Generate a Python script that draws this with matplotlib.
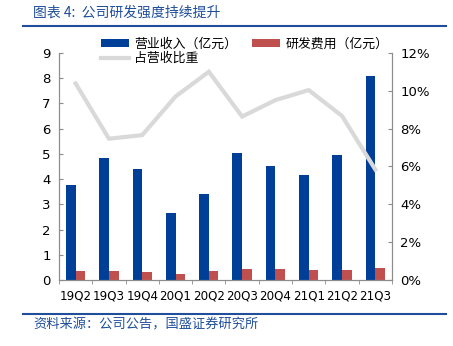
import matplotlib
matplotlib.use("Agg")
import matplotlib.pyplot as plt
from matplotlib.ticker import FuncFormatter
import numpy as np

plt.rcParams['font.family'] = ['DejaVu Sans', 'Noto Sans CJK SC']

quarters = ["19Q2", "19Q3", "19Q4", "20Q1", "20Q2", "20Q3", "20Q4", "21Q1", "21Q2", "21Q3"]
revenue = [3.78, 4.83, 4.42, 2.65, 3.41, 5.05, 4.50, 4.18, 4.95, 8.08]
rd_cost = [0.37, 0.34, 0.32, 0.24, 0.36, 0.44, 0.42, 0.40, 0.41, 0.47]
rd_ratio = [10.39, 7.47, 7.66, 9.70, 11.01, 8.64, 9.51, 10.04, 8.67, 5.84]

blue = "#003f98"
red = "#c0504d"
gray_line = "#d9d9d9"
spine_c = "#8c8c8c"
title_c = "#1f4e9b"
cjk = ['Noto Sans CJK SC', 'DejaVu Sans']

fig = plt.figure(figsize=(4.53, 3.46), dpi=100)
ax = fig.add_axes([0.1302, 0.1908, 0.7351, 0.656])
ax2 = ax.twinx()

x = np.arange(len(quarters))
w = 0.29
b1 = ax.bar(x - w / 2, revenue, width=w, color=blue, zorder=2)
b2 = ax.bar(x + w / 2, rd_cost, width=w, color=red, zorder=2)
ln, = ax2.plot(x, rd_ratio, color=gray_line, lw=3, solid_joinstyle="miter")

ax.set_xlim(-0.5, len(quarters) - 0.5)
ax.set_ylim(0, 9)
ax.set_yticks(range(0, 10))
ax2.set_ylim(0, 12)
ax2.set_yticks(range(0, 13, 2))
ax2.yaxis.set_major_formatter(FuncFormatter(lambda v, p: f"{int(v)}%"))

ax.set_xticks(x)
ax.set_xticklabels(quarters)
ax.set_xticks(np.arange(-0.5, len(quarters), 1), minor=True)

for a in (ax, ax2):
    a.spines["top"].set_visible(False)
    for s in ("left", "right", "bottom"):
        a.spines[s].set_color(spine_c)
        a.spines[s].set_linewidth(0.8)
    a.tick_params(axis="y", direction="in", length=3, color=spine_c, labelsize=9.5, pad=6)
ax.tick_params(axis="x", which="major", length=0, labelsize=8.6, pad=7)
ax.tick_params(axis="x", which="minor", direction="out", length=3, color=spine_c)

leg = ax.legend([b1, ln, b2], ["营业收入（亿元）", "占营收比重", "研发费用（亿元）"],
                ncol=2, loc="upper left", bbox_to_anchor=(0.11, 1.09),
                frameon=False, prop={"family": cjk, "size": 9.3},
                handlelength=2.2, handleheight=0.5, columnspacing=1.1,
                labelspacing=0.1, handletextpad=0.4, borderaxespad=0)

fig.text(0.073, 0.962, "图表 4:  公司研发强度持续提升", color=title_c, fontsize=10,
         family=cjk, style="italic", va="center")
fig.add_artist(plt.Line2D([0.051, 0.985], [0.925, 0.925], color=title_c, lw=1.5))
fig.add_artist(plt.Line2D([0.051, 0.985], [0.093, 0.093], color=title_c, lw=1.5))
fig.text(0.073, 0.06, "资料来源：公司公告，国盛证券研究所", color=title_c, fontsize=9.5,
         family=cjk, style="italic", va="center")

fig.savefig("out.png", dpi=100)
